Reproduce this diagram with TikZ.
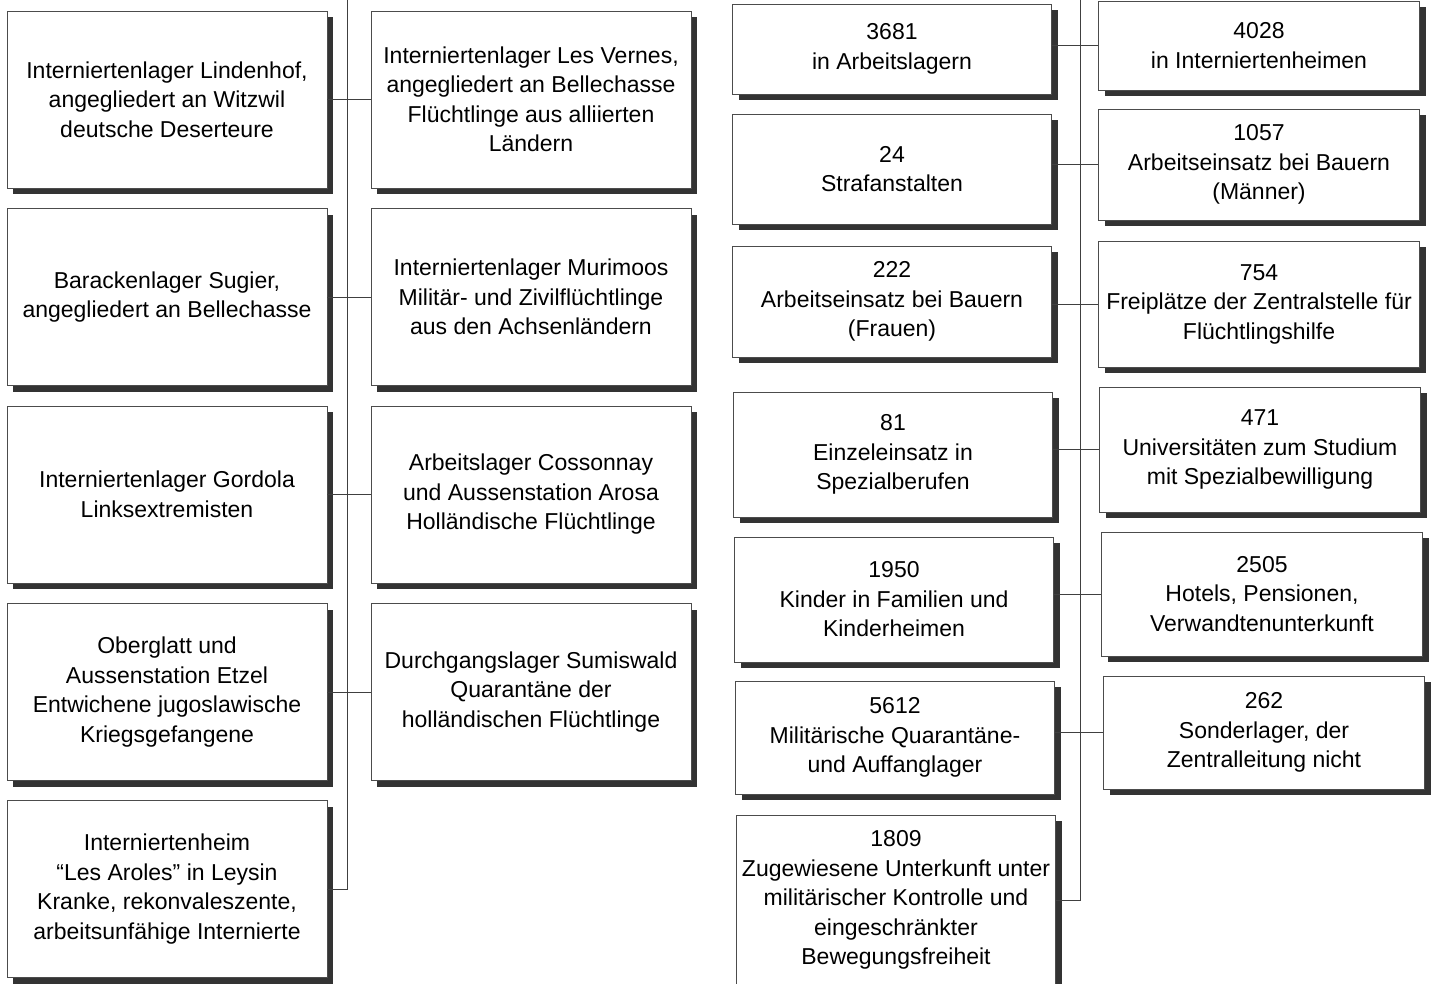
\documentclass[tikz,border=0pt]{standalone}
\usepackage{fontspec}
\setmainfont{Liberation Sans}
\usetikzlibrary{shadows}

\tikzset{
  lager/.style={rectangle, draw=black!70, line width=0.8pt, fill=white,
    align=center, inner sep=0pt, font=\fontsize{23}{29.5}\selectfont,
    drop shadow={shadow xshift=6pt, shadow yshift=-6pt, fill=black!80, opacity=1}},
  lbox/.style={lager, minimum width=320pt, minimum height=177pt},
  rbox/.style={lager, minimum width=319pt},
  link/.style={line width=0.8pt, black!75}
}

\begin{document}
\begin{tikzpicture}[x=1pt,y=-1pt]
                            \clip (0,0) rectangle (1437,983);

                            % Left group: camps
                            \node[lbox] (L1) at (167,99.5) {Interniertenlager Lindenhof,\\angegliedert an Witzwil\\deutsche Deserteure};
                            \node[lbox] (L2) at (167,297) {Barackenlager Sugier,\\angegliedert an Bellechasse};
                            \node[lbox] (L3) at (167,494.5) {Interniertenlager Gordola\\Linksextremisten};
                            \node[lbox] (L4) at (167,692) {Oberglatt und\\Aussenstation Etzel\\Entwichene jugoslawische\\Kriegsgefangene};
                            \node[lbox] (L5) at (167,889) {Interniertenheim\\“Les Aroles” in Leysin\\Kranke, rekonvaleszente,\\arbeitsunfähige Internierte};

                            \node[lbox] (M1) at (531,99.5) {Interniertenlager Les Vernes,\\angegliedert an Bellechasse\\Flüchtlinge aus alliierten\\Ländern};
                            \node[lbox] (M2) at (531,297) {Interniertenlager Murimoos\\Militär- und Zivilflüchtlinge\\aus den Achsenländern};
                            \node[lbox] (M3) at (531,494.5) {Arbeitslager Cossonnay\\und Aussenstation Arosa\\Holländische Flüchtlinge};
                            \node[lbox] (M4) at (531,692) {Durchgangslager Sumiswald\\Quarantäne der\\holländischen Flüchtlinge};

                            % Right group: numbers
                            \node[rbox, minimum height=90pt] (A1) at (892,49) {3681\\in Arbeitslagern};
                            \node[rbox, minimum height=110pt] (A2) at (892,169) {24\\Strafanstalten};
                            \node[rbox, minimum height=111pt] (A3) at (892,301.5) {222\\Arbeitseinsatz bei Bauern\\(Frauen)};
                            \node[rbox, minimum height=125pt] (A4) at (893,454.5) {81\\Einzeleinsatz in\\Spezialberufen};
                            \node[rbox, minimum height=125pt] (A5) at (894,599.5) {1950\\Kinder in Familien und\\Kinderheimen};
                            \node[rbox, minimum height=113pt] (A6) at (895,737.5) {5612\\Militärische Quarantäne-\\und Auffanglager};
                            \node[rbox, minimum height=170pt] (A7) at (896,900) {1809\\Zugewiesene Unterkunft unter\\militärischer Kontrolle und\\eingeschränkter\\Bewegungsfreiheit};

                            \node[rbox, minimum width=321pt, minimum height=89pt] (B1) at (1259,45.5) {4028\\in Interniertenheimen};
                            \node[rbox, minimum width=321pt, minimum height=111pt] (B2) at (1259,164.5) {1057\\Arbeitseinsatz bei Bauern\\(Männer)};
                            \node[rbox, minimum width=321pt, minimum height=126pt] (B3) at (1259,304) {754\\Freiplätze der Zentralstelle für\\Flüchtlingshilfe};
                            \node[rbox, minimum width=321pt, minimum height=125pt] (B4) at (1260,449.5) {471\\Universitäten zum Studium\\mit Spezialbewilligung};
                            \node[rbox, minimum width=321pt, minimum height=124pt] (B5) at (1262,594) {2505\\Hotels, Pensionen,\\Verwandtenunterkunft};
                            \node[rbox, minimum width=321pt, minimum height=113pt] (B6) at (1264,732.5) {262\\Sonderlager, der\\Zentralleitung nicht};

                            % Spines
                            \coordinate (ltop) at (347,0);
                            \coordinate (rtop) at (1080,0);
                            \draw[link] (ltop) |- (L5.east);
                            \draw[link] (rtop) |- (A7.east);

                            % Branches
                            \foreach \i in {1,...,4}
                              \draw[link] (L\i.east) -- (M\i.west);
                            \foreach \i in {1,...,6}
                              \draw[link] (B\i.west) -- (B\i.west -| A\i.east);
                      \end{tikzpicture}
\end{document}
